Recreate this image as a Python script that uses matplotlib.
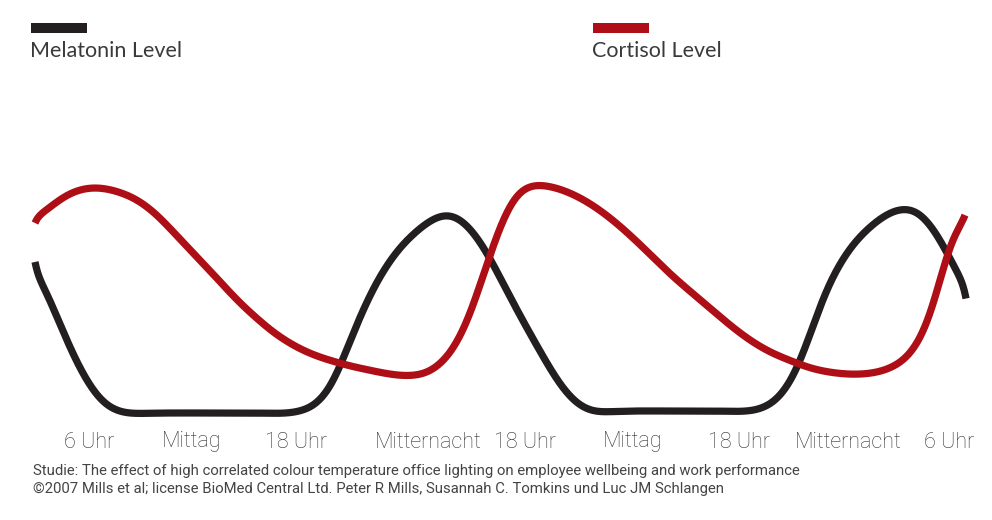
import numpy as np
import matplotlib
matplotlib.use("Agg")
import matplotlib.pyplot as plt

# ---- data (x = position along time axis, y = level, larger = lower on chart) ----
mel_x = [35, 43, 53, 63, 77, 90, 103, 120, 137, 150, 165, 180, 195, 210, 225, 240, 255, 270,
         285, 300, 317, 330, 340, 350, 360, 370, 383, 400, 417, 433, 447, 460, 473, 487, 500, 510,
         523, 537, 550, 563, 577, 593, 608, 623, 638, 653, 668, 683, 698, 713, 728,
         743, 760, 777, 790, 800, 810, 820, 830, 840, 853, 870, 887, 903, 917, 930, 943, 953, 962, 966]
mel_y = [263, 282, 308, 332, 362, 385, 402, 411, 413, 413, 413, 413, 413, 413, 413, 413, 413, 413,
         413, 410, 402, 388, 368, 338, 318, 295, 272, 248, 232, 220, 215, 220, 233, 253, 278, 297,
         321, 345, 368, 388, 403, 411, 411, 411, 411, 411, 411, 411, 411, 411, 411,
         411, 408, 398, 382, 362, 335, 305, 282, 265, 245, 228, 215, 210, 212, 225, 245, 265, 285, 298]

cor_x = [35, 50, 63, 80, 97, 117, 137, 157, 173, 190, 207, 223, 240, 257, 273, 290, 307, 323, 340, 350,
         370, 390, 410, 427, 443, 457, 470, 480, 490, 500, 510, 520, 533, 547, 567, 587, 610, 633, 653, 670,
         690, 710, 730, 750, 770, 790, 810, 830, 850, 870, 890, 907, 920, 930, 937, 943, 950, 957, 965]
cor_y = [223, 208, 197, 190, 188, 192, 200, 215, 232, 250, 267, 285, 303, 318, 332, 343, 352, 358, 363, 366,
         370, 374, 375, 372, 360, 342, 315, 285, 255, 228, 205, 192, 187, 187, 192, 202, 218, 238, 257, 274,
         291, 308, 325, 340, 352, 360, 368, 372, 374, 373, 367, 355, 338, 318, 295, 268, 242, 225, 218]

tick_pos = [89, 192, 296, 428, 525, 633, 739, 848, 949]
tick_labels = ["6 Uhr", "Mittag", "18 Uhr", "Mitternacht", "18 Uhr", "Mittag", "18 Uhr", "Mitternacht", "6 Uhr"]

series_names = ["Melatonin Level", "Cortisol Level"]
footnote = ["Studie: The effect of high correlated colour temperature office lighting on employee wellbeing and work performance",
            "\u00a92007 Mills et al; license BioMed Central Ltd. Peter R Mills, Susannah C. Tomkins und Luc JM Schlangen"]

BLACK = "#231f20"
RED = "#ae0f16"
TEXT = "#333333"


def bspline_basis(x, t, k=3):
    x = np.asarray(x, float)
    nb = len(t) - 1
    B = np.zeros((len(x), nb))
    for i in range(nb):
        B[:, i] = (x >= t[i]) & (x < t[i + 1])
    last = np.max(np.nonzero(t[:-1] < t[1:])[0])
    B[x >= t[-1], last] = 1.0
    for d in range(1, k + 1):
        nb2 = len(t) - d - 1
        Bn = np.zeros((len(x), nb2))
        for i in range(nb2):
            a = t[i + d] - t[i]
            b = t[i + d + 1] - t[i + 1]
            term = np.zeros(len(x))
            if a > 0:
                term += (x - t[i]) / a * B[:, i]
            if b > 0:
                term += (t[i + d + 1] - x) / b * B[:, i + 1]
            Bn[:, i] = term
        B = Bn
    return B


def pspline(x, y, spacing=6.0, lam=2.5, n=3000):
    """Penalised B-spline smoother used only to draw a smooth stroke through the read points."""
    x = np.asarray(x, float)
    y = np.asarray(y, float)
    a, b = x[0], x[-1]
    nint = max(1, int(round((b - a) / spacing)))
    inner = np.linspace(a, b, nint + 1)[1:-1]
    t = np.concatenate([[a] * 4, inner, [b] * 4])
    B = bspline_basis(x, t)
    w = np.ones(len(x))
    w[0] = w[-1] = 2.0
    W = np.diag(w)
    nb = B.shape[1]
    D = np.diff(np.eye(nb), n=2, axis=0)
    c = np.linalg.solve(B.T @ W @ B + lam * D.T @ D, B.T @ W @ y)
    xs = np.linspace(a, b, n)
    return xs, bspline_basis(xs, t) @ c


fig = plt.figure(figsize=(9.92, 5.2), dpi=100)
ax = fig.add_axes([0, 0, 1, 1])
ax.set_xlim(0, 992)
ax.set_ylim(520, 0)
ax.axis("off")

sx, sy = pspline(mel_x, mel_y)
ax.plot(sx, sy, color=BLACK, lw=5.2, solid_capstyle="butt", solid_joinstyle="round")
sx, sy = pspline(cor_x, cor_y)
ax.plot(sx, sy, color=RED, lw=5.2, solid_capstyle="butt", solid_joinstyle="round")

# legend
for xpos, col, name in [(31, BLACK, series_names[0]), (593, RED, series_names[1])]:
    ax.add_patch(plt.Rectangle((xpos, 23), 56, 10, color=col, lw=0))
    ax.text(xpos - 1, 51, name, fontsize=15.5, family="Lato", color="#3a3a3a",
            va="center", ha="left")

# tick labels
for p, lab in zip(tick_pos, tick_labels):
    ax.text(p, 442, lab, fontsize=15.5, family="Roboto", fontweight="light", color=TEXT,
            va="center", ha="center")

ax.text(33, 471, footnote[0], fontsize=10.7, family="Roboto", color="#444444", va="center", ha="left")
ax.text(33, 489, footnote[1], fontsize=10.7, family="Roboto", color="#444444", va="center", ha="left")

fig.savefig("out.png", dpi=100)
